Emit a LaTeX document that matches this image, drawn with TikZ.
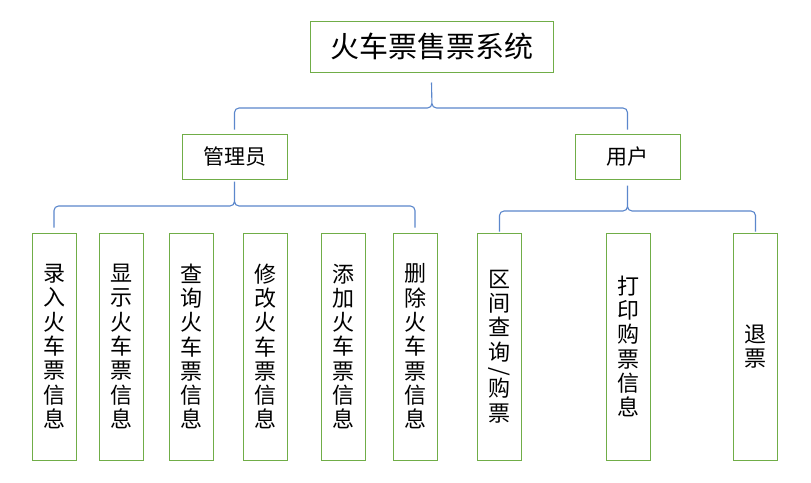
\documentclass[tikz,border=0pt]{standalone}
\usepackage{fontspec}
\newfontfamily\cjk{Noto Sans CJK SC}
\usetikzlibrary{calc}
\definecolor{boxgreen}{RGB}{112,173,71}
\definecolor{braceblue}{RGB}{91,135,204}
\begin{document}
\begin{tikzpicture}[x=1pt,y=-1pt,
  box/.style={draw=boxgreen,line width=1pt,fill=white,inner sep=0pt,font=\cjk},
  col/.style={box,minimum width=44pt,minimum height=227pt,align=center,
    font=\cjk\fontsize{22}{24.3}\selectfont},
  mid/.style={box,minimum width=105pt,minimum height=45pt,font=\cjk\fontsize{21}{24}\selectfont},
  brace/.style={draw=braceblue,line width=1.1pt,rounded corners=4.5pt}]
\useasboundingbox (0,0) rectangle (811,482);
\fill[white] (0,0) rectangle (811,482);
% nodes
\node[box,minimum width=243pt,minimum height=51pt,font=\cjk\fontsize{29}{34}\selectfont] (top) at (431.5,46.5) {火车票售票系统};
\node[mid] (adm) at (234.5,156.5) {管理员};
\node[mid] (usr) at (627.5,156.5) {用户};
\node[col] (c1) at (54,346.5) {录\\入\\火\\车\\票\\信\\息};
\node[col] (c2) at (121,346.5) {显\\示\\火\\车\\票\\信\\息};
\node[col] (c3) at (191.5,346.5) {查\\询\\火\\车\\票\\信\\息};
\node[col] (c4) at (265,346.5) {修\\改\\火\\车\\票\\信\\息};
\node[col] (c5) at (343,346.5) {添\\加\\火\\车\\票\\信\\息};
\node[col] (c6) at (415,346.5) {删\\除\\火\\车\\票\\信\\息};
\node[col] (c7) at (499.5,346.5) {区\\间\\查\\询\\[-6pt]\rotatebox[origin=c]{-90}{/}\\[-6pt]购\\票};
\node[col] (c8) at (628.5,346.5) {打\\印\\购\\票\\信\\息};
\node[col] (c9) at (755.5,346.5) {退\\票};
% brace points
\coordinate (t0) at ([yshift=-10pt]top.south);
\coordinate (h0) at (432,108);
\coordinate (e01) at ([yshift=4pt]adm.north);
\coordinate (e02) at ([yshift=4pt]usr.north);
\coordinate (t1) at ([yshift=-2pt]adm.south);
\coordinate (h1) at (234.5,206);
\coordinate (e11) at ([yshift=5pt]c1.north);
\coordinate (e16) at ([yshift=5pt]c6.north);
\coordinate (t2) at ([yshift=-6pt]usr.south);
\coordinate (h2) at (627.5,211);
\coordinate (e27) at ([yshift=1pt]c7.north);
\coordinate (e29) at ([yshift=1pt]c9.north);
% braces
\draw[brace] (e01) |- (h0) -- (t0) (t0) -- (h0) -| (e02);
\draw[brace] (e11) |- (h1) -- (t1) (t1) -- (h1) -| (e16);
\draw[brace] (e27) |- (h2) -- (t2) (t2) -- (h2) -| (e29);
\end{tikzpicture}
\end{document}
